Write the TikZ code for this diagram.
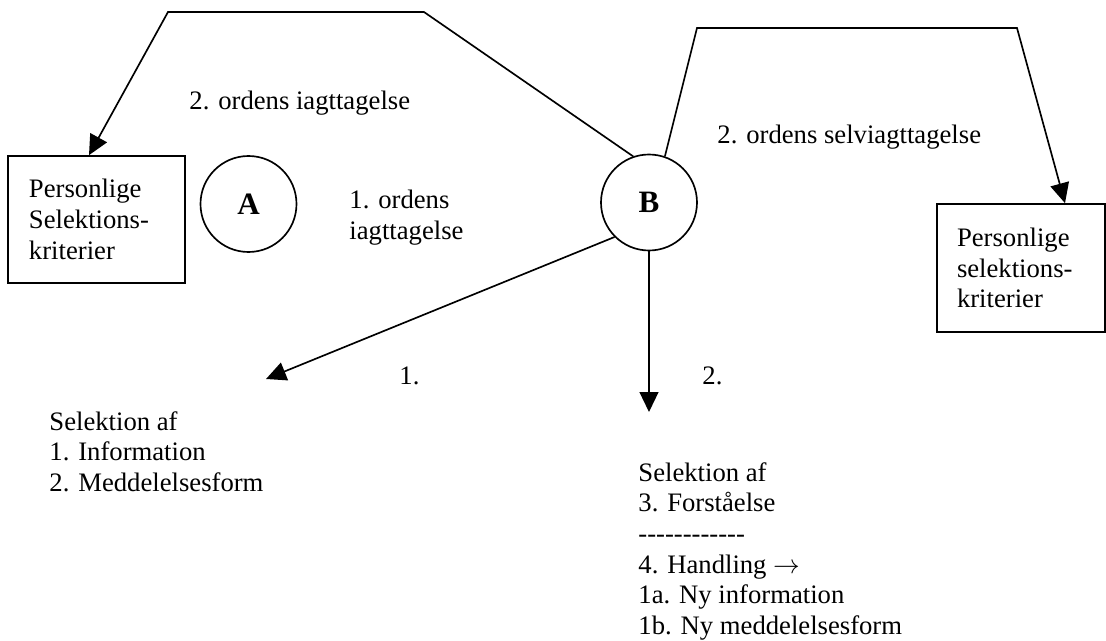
\documentclass[tikz,border=0pt]{standalone}
\usepackage{fontspec}
\setmainfont{Liberation Serif}
\usetikzlibrary{arrows.meta}
\begin{document}
\begin{tikzpicture}[x=0.45pt,y=-0.45pt,
  every node/.style={font=\fontsize{12}{13.8}\selectfont, inner sep=0pt},
  arr/.style={line width=0.75pt, -{Triangle[length=9pt,width=8.5pt]}},
  kbox/.style={draw, line width=0.75pt, align=left},
  circ/.style={draw, circle, line width=0.75pt, minimum size=43.2pt, font=\fontsize{14}{16}\bfseries\selectfont},
  lbl/.style={anchor=base west},
  blk/.style={anchor=north west, align=left}]
\useasboundingbox (0,0) rectangle (1106,641);
% boxes and circles
\node[kbox, text width=60.75pt, inner xsep=9.45pt, minimum width=79.65pt, minimum height=57.15pt] (L) at (96.5,219.5) {Personlige\\Selektions-\\kriterier};
\node[kbox, text width=57.6pt, inner xsep=9pt, minimum width=75.6pt, minimum height=57.6pt] (R) at (1021,268) {Personlige\\selektions-\\kriterier};
\node[circ] (A) at (248.5,204) {A};
\node[circ] (B) at (649,202.5) {B};
% bend points and free ends
\coordinate (k1) at (424,12);
\coordinate (k2) at (168,12);
\coordinate (tipL) at (89,0);
\coordinate (k3) at (697,28);
\coordinate (k4) at (1017,28);
\coordinate (tipR) at (1065,0);
\coordinate (t1) at (266,379);
\coordinate (t2) at (649,412);
% connectors
\draw[arr] (B.109) -- (k1) -- (k2) -- (tipL |- L.north);
\draw[arr] (B.71) -- (k3) -- (k4) -- (tipR |- R.north);
\draw[arr] (B.225) -- (t1);
\draw[arr] (B.south) -- (t2);
% labels
\node[lbl] (o2) at (189,110) {2. ordens iagttagelse};
\node[blk] (o1) at (349,190) {1. ordens\\iagttagelse};
\node[lbl] (s2) at (717,143) {2. ordens selviagttagelse};
\node[lbl] (n1) at (399,384) {1.};
\node[lbl] (n2) at (702,384) {2.};
\node[blk] (sel1) at (49,411) {Selektion af\\1. Information\\2. Meddelelsesform};
\node[blk] (sel2) at (638,462) {Selektion af\\3. Forståelse\\-\kern0pt-\kern0pt-\kern0pt-\kern0pt-\kern0pt-\kern0pt-\kern0pt-\kern0pt-\kern0pt-\kern0pt-\kern0pt-\\4. Handling $\rightarrow$\\1a. Ny information\\1b. Ny meddelelsesform};
\end{tikzpicture}
\end{document}
